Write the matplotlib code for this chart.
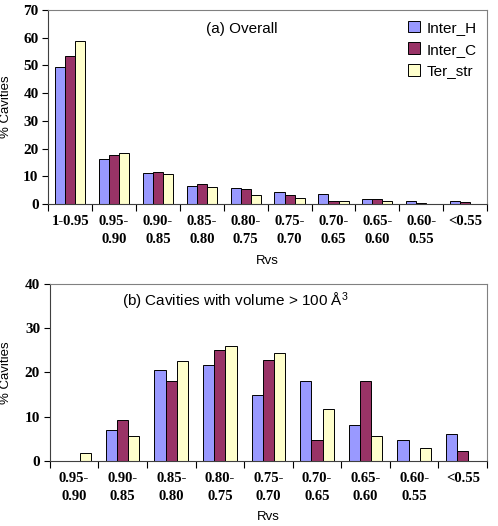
import numpy as np
import matplotlib
matplotlib.use("Agg")
from matplotlib import pyplot as plt

# data
cats_a = ["1-0.95", "0.95-\n0.90", "0.90-\n0.85", "0.85-\n0.80", "0.80-\n0.75",
          "0.75-\n0.70", "0.70-\n0.65", "0.65-\n0.60", "0.60-\n0.55", "<0.55"]
inter_h_a = [49.6, 16.4, 11.1, 6.5, 5.8, 4.3, 3.7, 1.8, 1.2, 1.2]
inter_c_a = [53.5, 17.6, 11.4, 7.2, 5.4, 3.4, 1.0, 1.8, 0.5, 0.6]
ter_str_a = [58.8, 18.6, 10.8, 6.1, 3.1, 2.3, 1.2, 1.0, 0.0, 0.0]

cats_b = cats_a[1:]
inter_h_b = [0.0, 6.9, 20.6, 21.7, 14.8, 18.1, 8.2, 4.75, 6.0]
inter_c_b = [0.0, 9.2, 18.1, 25.0, 22.8, 4.75, 18.1, 0.0, 2.3]
ter_str_b = [1.8, 5.6, 22.6, 26.0, 24.3, 11.7, 5.5, 2.8, 0.0]

names = ["Inter_H", "Inter_C", "Ter_str"]
colors = ["#9999FF", "#993366", "#FFFFCC"]

tickfont = dict(family="Liberation Serif", weight="bold", size=10.5)
labfont = dict(family="Liberation Sans", size=9.5)


def draw(ax, cats, series, ymax, title, tx, legend, ylx):
    x = np.arange(len(cats))
    w = 0.23
    for i, vals in enumerate(series):
        ax.bar(x + (i - 1) * w, vals, w, color=colors[i], edgecolor="black",
               linewidth=0.7, label=names[i], zorder=2)
    ax.set_xlim(-0.5, len(cats) - 0.5)
    ax.set_ylim(0, ymax)
    ax.set_yticks(np.arange(0, ymax + 1, 10))
    # ticks on the category boundaries
    ax.set_xticks(np.arange(-0.5, len(cats), 1.0))
    ax.set_xticklabels([])
    ax.set_xticks(x, minor=True)
    ax.set_xticklabels(cats, minor=True, **tickfont, linespacing=1.5)
    ax.tick_params(axis="x", which="minor", length=0, pad=8)
    ax.tick_params(axis="x", which="major", length=5, direction="out", width=0.8)
    ax.tick_params(axis="y", length=4, direction="out", width=0.8, pad=3)
    for t in ax.get_yticklabels():
        t.set_fontfamily("Liberation Serif")
        t.set_fontweight("bold")
        t.set_fontsize(11)
    for s in ["top", "right"]:
        ax.spines[s].set_color("#808080")
    for s in ["left", "bottom"]:
        ax.spines[s].set_color("#404040")
    ax.set_ylabel("% Cavities", **labfont)
    ax.yaxis.set_label_coords(ylx, 0.5)
    ax.set_xlabel("Rvs", **labfont, labelpad=6)
    ax.text(tx, 0.9, title, transform=ax.transAxes, fontsize=11,
            family="Liberation Sans", va="center")
    if legend:
        ax.legend(loc="upper right", frameon=False, handlelength=0.8,
                  handleheight=0.8, handletextpad=0.4, labelspacing=0.5,
                  prop=dict(family="Liberation Sans", size=11),
                  borderaxespad=0.3)


fig = plt.figure(figsize=(4.98, 5.26), dpi=100)
ax1 = fig.add_axes([0.097, 0.612, 0.881, 0.369])
ax2 = fig.add_axes([0.1, 0.124, 0.878, 0.336])

draw(ax1, cats_a, [inter_h_a, inter_c_a, ter_str_a], 70, "(a) Overall", 0.36, True, -0.082)
draw(ax2, cats_b, [inter_h_b, inter_c_b, ter_str_b], 40,
     "(b) Cavities with volume > 100 $\\mathregular{\\AA^3}$", 0.165, False, -0.087)

fig.savefig("out.png", dpi=100)
